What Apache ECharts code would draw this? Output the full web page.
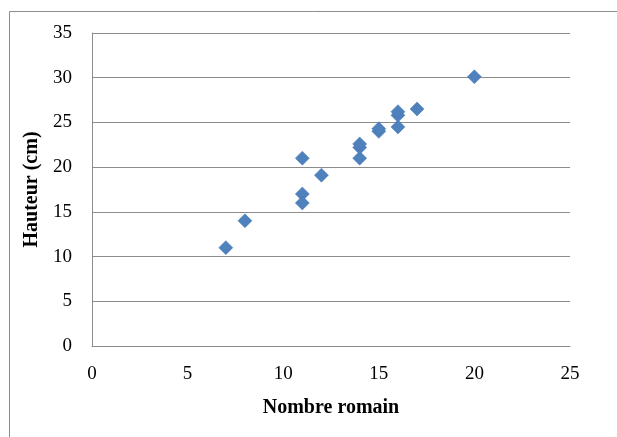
<!DOCTYPE html>
<html>
<head>
<meta charset="utf-8">
<script src="https://cdn.jsdelivr.net/npm/echarts@6/dist/echarts.min.js"></script>
<style>
  html, body { margin: 0; padding: 0; background: #fff; }
  #chart { width: 617px; height: 437px; }
</style>
</head>
<body>
<div id="chart"></div>
<script>
  // valeurs
  var nombreRomain = [7, 8, 11, 11, 11, 12, 14, 14, 14, 15, 15, 16, 16, 16, 17, 20];
  var hauteur = [11, 14, 21, 17, 16, 19.1, 21, 22.2, 22.6, 24, 24.3, 24.5, 25.8, 26.2, 26.5, 30.1];
  var xTicks = [0, 5, 10, 15, 20, 25];
  var yTicks = [0, 5, 10, 15, 20, 25, 30, 35];

  var points = [];
  for (var i = 0; i < nombreRomain.length; i++) {
    points.push([nombreRomain[i], hauteur[i]]);
  }

  var myChart = echarts.init(document.getElementById('chart'));
  var serif = '"Liberation Serif", "DejaVu Serif", serif';

  var option = {
    animation: false,
    backgroundColor: '#fff',
    graphic: [{
      type: 'rect',
      shape: { x: 9.5, y: 11.5, width: 640, height: 460 },
      style: { fill: 'none', stroke: '#8c8c8c', lineWidth: 1 },
      silent: true
    }],
    grid: {
      left: 92,
      right: 47,
      top: 33,
      bottom: 91
    },
    xAxis: {
      type: 'value',
      min: xTicks[0],
      max: xTicks[xTicks.length - 1],
      interval: 5,
      name: 'Nombre romain',
      nameLocation: 'middle',
      nameGap: 52,
      nameTextStyle: { fontFamily: serif, fontSize: 20, fontWeight: 'bold', color: '#000' },
      axisLine: { show: true, lineStyle: { color: '#8c8c8c', width: 1 } },
      axisTick: { show: false },
      splitLine: { show: false },
      axisLabel: { fontFamily: serif, fontSize: 19, color: '#000', margin: 19 }
    },
    yAxis: {
      type: 'value',
      min: yTicks[0],
      max: yTicks[yTicks.length - 1],
      interval: 5,
      name: 'Hauteur (cm)',
      nameLocation: 'middle',
      nameGap: 48,
      nameTextStyle: { fontFamily: serif, fontSize: 20, fontWeight: 'bold', color: '#000' },
      axisLine: { show: true, lineStyle: { color: '#8c8c8c', width: 1 } },
      axisTick: { show: false },
      splitLine: { show: true, lineStyle: { color: '#8c8c8c', width: 1 } },
      axisLabel: { fontFamily: serif, fontSize: 19, color: '#000', margin: 20 }
    },
    series: [{
      type: 'scatter',
      symbol: 'diamond',
      symbolSize: 14,
      itemStyle: { color: '#4f81bd', opacity: 1, borderColor: '#4677b3', borderWidth: 0.5 },
      data: points
    }]
  };
  myChart.setOption(option);
</script>
</body>
</html>
